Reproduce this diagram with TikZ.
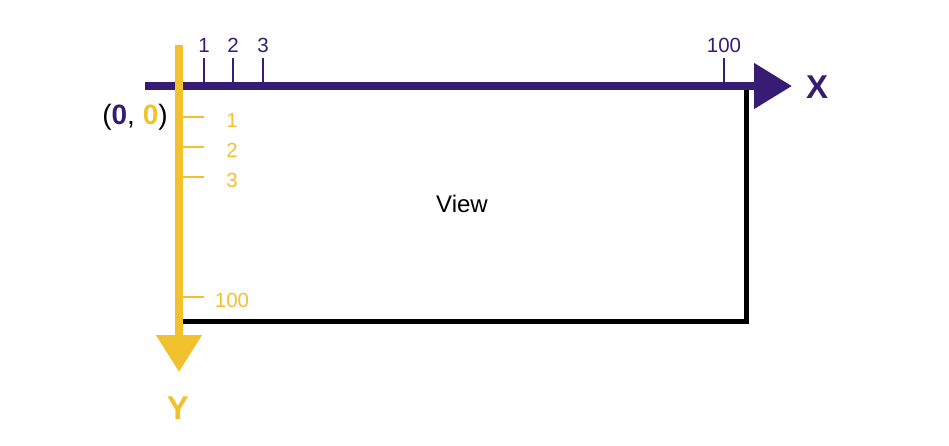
\documentclass[tikz,border=0pt]{standalone}
\usepackage{fontspec}
\setmainfont{Liberation Sans}
\usetikzlibrary{arrows.meta}
\definecolor{axispurple}{HTML}{371C73}
\definecolor{axisyellow}{HTML}{F2C12E}
\tikzset{
    xtick/.style={draw=axispurple, line width=2.2pt},
    ytick/.style={draw=axisyellow, line width=2.2pt},
    xticklabel/.style={text=axispurple, font=\fontsize{20.5}{20.5}\selectfont, inner sep=0pt},
    yticklabel/.style={text=axisyellow, font=\fontsize{20.5}{20.5}\selectfont, inner sep=0pt},
}
\begin{document}
\begin{tikzpicture}[x=1pt, y=-1pt]
        \useasboundingbox (0,0) rectangle (949,445);

        % View
        \draw [line width=5pt, black] (183,321) -- (746,321) -- (746,90);
        \node (view) at (462,204) {\fontsize{24}{24}\selectfont View};

        % X axis
        \draw [axispurple, line width=8pt, -{Triangle[length=38pt, width=44pt]}] (145,86) -- (792,86);
        \foreach \x/\t in {204/1, 233/2, 263/3, 724/100}{
            \draw [xtick] (\x,58) -- (\x,86);
            \node[xticklabel] (xlab\t) at (\x,45) {\t};
        }
        \node[text=axispurple, font=\bfseries\fontsize{33}{33}\selectfont] (xname) at (817,87) {X};

        % Y axis
        \draw [axisyellow, line width=8pt, -{Triangle[length=37pt, width=44pt]}] (179,45) -- (179,372);
        \foreach \y/\t in {117/1, 147/2, 177/3, 297/100}{
            \draw [ytick] (183,\y) -- (204,\y);
            \node[yticklabel] (ylab\t) at (232,\y+3) {\t};
        }
        \node[text=axisyellow, font=\bfseries\fontsize{33}{33}\selectfont] (yname) at (178,408) {Y};

        % origin
        \node[font=\fontsize{28}{28}\selectfont] (origin) at (135,117)
            {(\textbf{\color{axispurple}0}, \textbf{\color{axisyellow}0})};

\end{tikzpicture}
\end{document}
